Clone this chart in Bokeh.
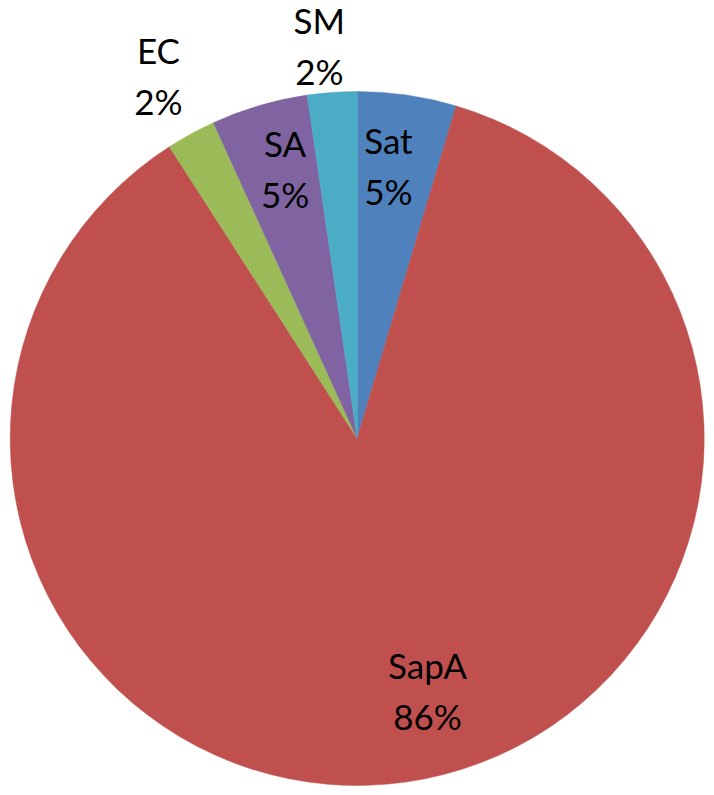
import math
from bokeh.plotting import figure
from bokeh.models import Range1d, ColumnDataSource
from bokeh.core.properties import value
from bokeh.embed import file_html
from bokeh.resources import INLINE

# ---- data ----
categories = ["Sat", "SapA", "EC", "SA", "SM"]
shares = [4.6, 86.3, 2.3, 4.5, 2.3]
colors = ["#4F81BD", "#C0504D", "#9BBB59", "#8064A2", "#4BACC6"]

# ---- label layout (angle nudge in degrees, clockwise; radius in px) ----
label_nudge = [-1.7, -7.3, -0.3, 1.3, -1.4]
label_radius = [272, 265, 411, 277, 392]

R = 347
total = sum(shares)
starts, ends, mids = [], [], []
cum = 0.0
for s in shares:
    a0 = cum / total * 2 * math.pi
    cum += s
    a1 = cum / total * 2 * math.pi
    starts.append(math.pi / 2 - a0)
    ends.append(math.pi / 2 - a1)
    mids.append((a0 + a1) / 2)

pct = [f"{int(s / total * 100 + 0.5)}%" for s in shares]

lx, ly = [], []
for m, nd, r in zip(mids, label_nudge, label_radius):
    a = m + math.radians(nd)
    lx.append(r * math.sin(a))
    ly.append(r * math.cos(a))

src = ColumnDataSource(dict(cat=categories, start=starts, end=ends, color=colors,
                            lx=lx, name_y=[y + 28.5 for y in ly],
                            pct_y=[y - 22.5 for y in ly], pct=pct))

p = figure(width=714, height=795, output_backend="svg", toolbar_location=None,
           x_range=Range1d(-356.7, 357.3), y_range=Range1d(-357, 438),
           min_border=0, outline_line_color=None)
p.axis.visible = False
p.grid.visible = False
p.background_fill_color = "white"
p.border_fill_color = "white"

p.wedge(x=0, y=0, radius=R, start_angle="start", end_angle="end", direction="clock",
        fill_color="color", line_color="color", line_width=0.5, source=src)

p.text(x="lx", y="name_y", text="cat", source=src, text_align="center",
       text_baseline="alphabetic", text_font=value("Lato"), text_font_size="35px",
       text_color="black")
p.text(x="lx", y="pct_y", text="pct", source=src, text_align="center",
       text_baseline="alphabetic", text_font=value("Lato"), text_font_size="35px",
       text_color="black")

open("out.html", "w").write(file_html(p, INLINE))
